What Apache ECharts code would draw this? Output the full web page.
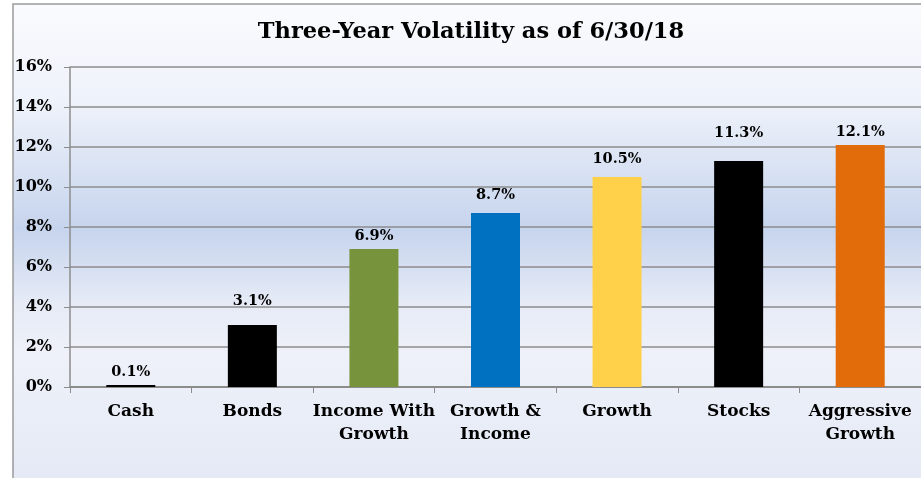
<!DOCTYPE html>
<html>
<head>
<meta charset="utf-8">
<script src="https://cdn.jsdelivr.net/npm/echarts@6/dist/echarts.min.js"></script>
<style>html,body{margin:0;padding:0;background:#fff}#c{width:921px;height:478px}</style>
</head>
<body>
<div id="c"></div>
<script>
var categories = ['Cash', 'Bonds', 'Income With\nGrowth', 'Growth &\nIncome', 'Growth', 'Stocks', 'Aggressive\nGrowth'];
var values = [0.1, 3.1, 6.9, 8.7, 10.5, 11.3, 12.1];
var barColors = ['#000000', '#000000', '#77933c', '#0070c0', '#ffd04a', '#000000', '#e36c0a'];
var labelLift = [0, 11, 0, 5, 5, 15, 0];
var yTicks = [0, 2, 4, 6, 8, 10, 12, 14, 16];

var FONT = '"DejaVu Serif", serif';
var chart = echarts.init(document.getElementById('c'), null, {renderer: 'canvas'});
var data = values.map(function (v, i) {
  return {
    value: v,
    itemStyle: {color: barColors[i]},
    label: {offset: [0, -labelLift[i]]}
  };
});
chart.setOption({
  animation: false,
  backgroundColor: '#ffffff',
  graphic: [{
    type: 'rect',
    z: -100,
    shape: {x: 13, y: 4, width: 930, height: 500},
    style: {
      fill: new echarts.graphic.LinearGradient(0, 0, 0, 1, [
        {offset: 0, color: '#fafbfe'},
        {offset: 0.2, color: '#eef2fa'},
        {offset: 0.45, color: '#c6d4ed'},
        {offset: 0.6, color: '#e6ebf6'},
        {offset: 0.7, color: '#eef1f9'},
        {offset: 1, color: '#e2e8f5'}
      ]),
      stroke: '#9a9a9a',
      lineWidth: 1.5
    }
  }],
  title: {
    text: 'Three-Year Volatility as of 6/30/18',
    left: 466,
    top: 16,
    textAlign: 'center',
    textStyle: {fontFamily: FONT, fontWeight: 'bold', fontSize: 22.5, color: '#000'}
  },
  grid: {left: 70, top: 67, width: 852, height: 320, containLabel: false},
  xAxis: {
    type: 'category',
    data: categories,
    axisLine: {lineStyle: {color: '#8c8c8c', width: 2}},
    axisTick: {show: true, length: 6, lineStyle: {color: '#8c8c8c'}, alignWithLabel: false},
    axisLabel: {
      interval: 0,
      margin: 13,
      fontFamily: FONT, fontWeight: 'bold', fontSize: 17, color: '#000', lineHeight: 23
    }
  },
  yAxis: {
    type: 'value',
    min: 0, max: 16, interval: 2,
    axisLine: {show: true, lineStyle: {color: '#8c8c8c', width: 1.5}},
    axisTick: {show: true, length: 6, lineStyle: {color: '#8c8c8c'}},
    splitLine: {lineStyle: {color: '#8c8c8c', width: 1.5}},
    axisLabel: {
      margin: 18,
      formatter: function (v) { return yTicks.indexOf(v) >= 0 ? v + '%' : ''; },
      fontFamily: FONT, fontWeight: 'bold', fontSize: 16, color: '#000'
    }
  },
  series: [{
    type: 'bar',
    data: data,
    barWidth: 49,
    label: {
      show: true,
      position: 'top',
      distance: 5,
      formatter: function (p) { return p.value.toFixed(1) + '%'; },
      fontFamily: FONT, fontWeight: 'bold', fontSize: 14.5, color: '#000'
    }
  }]
});
</script>
</body>
</html>
